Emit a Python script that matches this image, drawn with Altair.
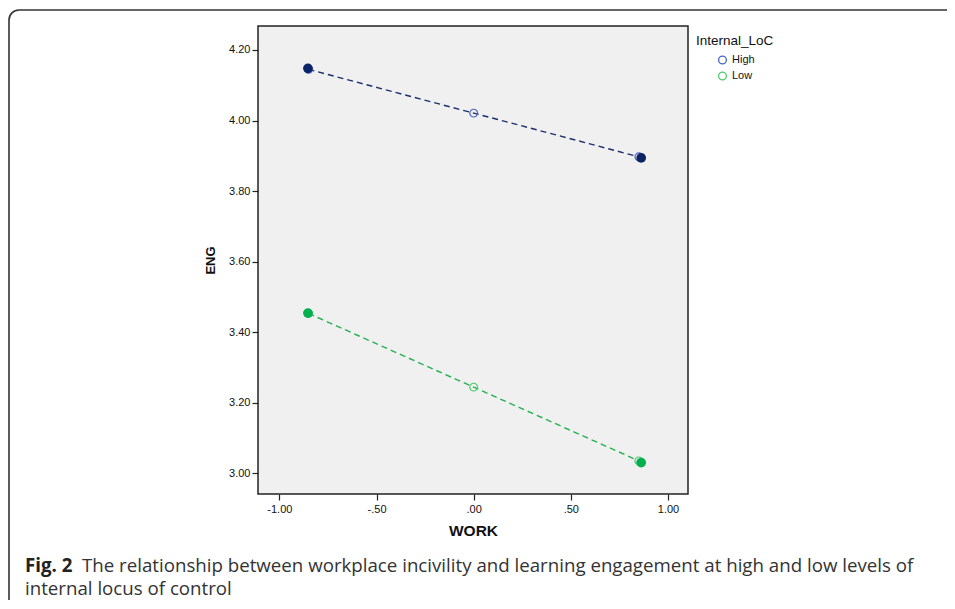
import altair as alt
import pandas as pd

# ---- data ----
series = ["High", "Low"]
work_fit = [-0.85, 0.00, 0.85]
eng_high_fit = [4.145, 4.021, 3.897]
eng_low_fit = [3.453, 3.244, 3.035]
work_obs = [-0.853, 0.862]
eng_high_obs = [4.148, 3.894]
eng_low_obs = [3.454, 3.030]
x_ticks = [-1.0, -0.5, 0.0, 0.5, 1.0]
x_tick_labels = ["-1.00", "-.50", ".00", ".50", "1.00"]
y_ticks = [3.0, 3.2, 3.4, 3.6, 3.8, 4.0, 4.2]
y_tick_labels = ["3.00", "3.20", "3.40", "3.60", "3.80", "4.00", "4.20"]
caption_bold = "Fig. 2"
caption_line1 = "The relationship between workplace incivility and learning engagement at high and low levels of"
caption_line2 = "internal locus of control"

dark_colors = ["#0a2466", "#00b04f"]
light_colors = ["#4b62c6", "#4fca6c"]
line_colors = ["#1b2f6f", "#22b24f"]


def label_expr(values, labels):
    expr = "''"
    for v, l in reversed(list(zip(values, labels))):
        expr = f"abs(datum.value - ({v})) < 1e-6 ? '{l}' : ({expr})"
    return expr


fit_df = pd.DataFrame({
    "WORK": work_fit * 2,
    "ENG": eng_high_fit + eng_low_fit,
    "Internal_LoC": ["High"] * 3 + ["Low"] * 3,
})
obs_df = pd.DataFrame({
    "WORK": work_obs * 2,
    "ENG": eng_high_obs + eng_low_obs,
    "Internal_LoC": ["High"] * 2 + ["Low"] * 2,
})

xscale = alt.Scale(domain=[-1.11, 1.103], nice=False, zero=False)
yscale = alt.Scale(domain=[2.941, 4.268], nice=False, zero=False)

x_enc = alt.X("WORK:Q", scale=xscale, axis=alt.Axis(
    values=x_ticks, title="WORK", grid=False, domain=False,
    labelExpr=label_expr(x_ticks, x_tick_labels),
    labelFont="Liberation Sans", labelFontSize=11, labelColor="#111",
    tickSize=6, tickColor="#222", tickWidth=1.2, labelPadding=3,
    titleFont="Liberation Sans", titleFontSize=15.5, titleFontWeight="bold",
    titleColor="#111", titlePadding=9))
y_enc = alt.Y("ENG:Q", scale=yscale, axis=alt.Axis(
    values=y_ticks, title="ENG", grid=False, domain=False,
    labelExpr=label_expr(y_ticks, y_tick_labels),
    labelFont="Liberation Sans", labelFontSize=11, labelColor="#111",
    tickSize=6, tickColor="#222", tickWidth=1.2, labelPadding=2,
    titleFont="Liberation Sans", titleFontSize=13, titleFontWeight="bold",
    titleColor="#111", titlePadding=11))

lines = alt.Chart(fit_df).mark_line(strokeDash=[6, 4], strokeWidth=1.4).encode(
    x=x_enc, y=y_enc,
    color=alt.Color("Internal_LoC:N", scale=alt.Scale(domain=series, range=line_colors), legend=None),
)

hollow = alt.Chart(fit_df).mark_point(filled=False, size=60, strokeWidth=1.2, opacity=1).encode(
    x=x_enc, y=y_enc,
    stroke=alt.Stroke("Internal_LoC:N", scale=alt.Scale(domain=series, range=light_colors),
                      legend=alt.Legend(
                          title="Internal_LoC", orient="none", legendX=438, legendY=8,
                          titleFont="Liberation Sans", titleFontSize=13.5, titleFontWeight="normal",
                          titleColor="#111", titlePadding=7,
                          labelFont="Liberation Sans", labelFontSize=11, labelColor="#111",
                          symbolType="circle", symbolSize=60, symbolStrokeWidth=1.3,
                          symbolOffset=21, labelOffset=4, rowPadding=3)),
)

filled = alt.Chart(obs_df).mark_circle(size=95, opacity=1).encode(
    x=x_enc, y=y_enc,
    color=alt.Color("Internal_LoC:N", scale=alt.Scale(domain=series, range=dark_colors), legend=None),
)

one = pd.DataFrame({"k": [0]})
frame = alt.Chart(one).mark_rect(
    fill=None, stroke="#333", strokeWidth=1.6, cornerRadius=10, clip=False
).encode(x=alt.value(-249), x2=alt.value(720), y=alt.value(-16), y2=alt.value(620))

cap_bold = alt.Chart(one).mark_text(
    text=caption_bold, align="left", baseline="alphabetic", font="Open Sans",
    fontSize=18.7, fontWeight="bold", color="#222"
).encode(x=alt.value(-233), y=alt.value(546))
cap1 = alt.Chart(one).mark_text(
    text=caption_line1, align="left", baseline="alphabetic", font="Open Sans",
    fontSize=18.7, color="#333"
).encode(x=alt.value(-176), y=alt.value(546))
cap2 = alt.Chart(one).mark_text(
    text=caption_line2, align="left", baseline="alphabetic", font="Open Sans",
    fontSize=18.7, color="#333"
).encode(x=alt.value(-233), y=alt.value(569))

chart = alt.layer(frame, lines, hollow, filled, cap_bold, cap1, cap2).resolve_scale(
    color="independent"
).properties(
    width=430, height=468,
    autosize=alt.AutoSizeParams(type="none"),
    padding={"left": 250, "top": 18, "right": 259, "bottom": 106},
).configure_view(fill="#f0f0f0", stroke="#222", strokeWidth=1.5)

chart.save("out.html", embed_options={"renderer": "svg", "actions": False})
